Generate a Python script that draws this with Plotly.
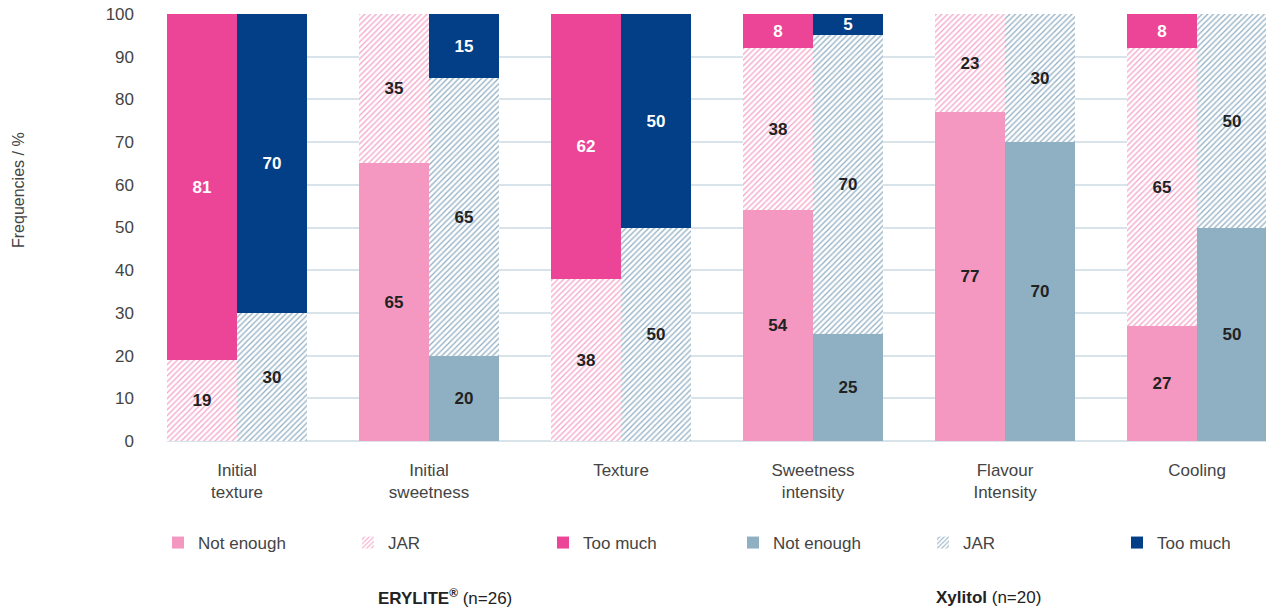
import plotly.graph_objects as go

# Survey categories (bar groups along the x axis)
categories = ["Initial<br>texture", "Initial<br>sweetness", "Texture",
              "Sweetness<br>intensity", "Flavour<br>Intensity", "Cooling"]

# ERYLITE® (n=26) response frequencies, %
erylite_not_enough = [0, 65, 0, 54, 77, 27]
erylite_jar = [19, 35, 38, 38, 23, 65]
erylite_too_much = [81, 0, 62, 8, 0, 8]

# Xylitol (n=20) response frequencies, %
xylitol_not_enough = [0, 20, 0, 25, 70, 50]
xylitol_jar = [30, 65, 50, 70, 30, 50]
xylitol_too_much = [70, 15, 50, 5, 0, 0]

y_ticks = [0, 10, 20, 30, 40, 50, 60, 70, 80, 90, 100]

PINK_LIGHT = "#f498c1"
PINK_HATCH = "#f4a6c8"
PINK_DARK = "#ec4496"
BLUE_LIGHT = "#8fb0c3"
BLUE_HATCH = "#93b0c4"
BLUE_DARK = "#023f87"
TEXT_DARK = "#222222"
TICK_GREY = "#444444"
FONT = "Liberation Sans, Arial, sans-serif"

PLOT_L, PLOT_W, PLOT_B, PLOT_H = 167, 1099, 441, 427

BAR_W = 0.3646  # each bar's width in category units
idx = list(range(len(categories)))
x_erylite = [i - BAR_W / 2 for i in idx]
x_xylitol = [i + BAR_W / 2 for i in idx]

# left edge (px) of each legend entry, one legend per entry
LEGEND_X = [158, 348, 543, 733, 923, 1117]


def px_x(px):
    return (px - PLOT_L) / PLOT_W


def px_y(px):
    return (PLOT_B - px) / PLOT_H


def bar(x, values, name, color, text_color, legend, pattern=None):
    # only segments with a non-zero share are drawn
    pts = [(xi, v) for xi, v in zip(x, values) if v]
    marker = dict(color=color, line=dict(width=0))
    if pattern is not None:
        marker = dict(color="white", line=dict(width=0),
                      pattern=dict(shape="/", fgcolor=pattern, bgcolor="white",
                                   size=4, solidity=0.33, fillmode="replace"))
    return go.Bar(
        x=[p[0] for p in pts], y=[p[1] for p in pts], width=BAR_W, name=name,
        marker=marker, legend=legend,
        text=[str(p[1]) for p in pts], textposition="inside",
        insidetextanchor="middle", textangle=0, constraintext="none",
        textfont=dict(family=FONT, size=17, color=text_color, weight="bold"),
        hoverinfo="skip",
    )


fig = go.Figure()
fig.add_trace(bar(x_erylite, erylite_not_enough, "Not enough", PINK_LIGHT, TEXT_DARK, "legend"))
fig.add_trace(bar(x_erylite, erylite_jar, "JAR", "white", TEXT_DARK, "legend2", pattern=PINK_HATCH))
fig.add_trace(bar(x_erylite, erylite_too_much, "Too much", PINK_DARK, "white", "legend3"))
fig.add_trace(bar(x_xylitol, xylitol_not_enough, "Not enough", BLUE_LIGHT, TEXT_DARK, "legend4"))
fig.add_trace(bar(x_xylitol, xylitol_jar, "JAR", "white", TEXT_DARK, "legend5", pattern=BLUE_HATCH))
fig.add_trace(bar(x_xylitol, xylitol_too_much, "Too much", BLUE_DARK, "white", "legend6"))

legend_style = dict(orientation="h", xanchor="left", yanchor="middle", y=px_y(543),
                    font=dict(family=FONT, size=17, color=TICK_GREY),
                    itemclick=False, itemdoubleclick=False, bgcolor="rgba(0,0,0,0)")
legends = {("legend" if i == 0 else f"legend{i + 1}"): dict(x=px_x(lx), **legend_style)
           for i, lx in enumerate(LEGEND_X)}

fig.update_layout(
    width=1266, height=610,
    margin=dict(l=PLOT_L, r=0, t=14, b=169, autoexpand=False),
    barmode="stack", bargap=0,
    plot_bgcolor="white", paper_bgcolor="white",
    font=dict(family=FONT, size=17, color=TICK_GREY),
    showlegend=True,
    **legends,
    xaxis=dict(range=[-0.3646, 5.359], tickvals=idx, ticktext=categories,
               showgrid=False, zeroline=False, showline=False, ticks="",
               ticklabelstandoff=17,
               tickfont=dict(family=FONT, size=17, color=TICK_GREY)),
    yaxis=dict(range=[0, 100], tickvals=y_ticks, showgrid=True,
               gridcolor="#d8e3ea", gridwidth=1.5, zeroline=True,
               zerolinecolor="#d8e3ea", zerolinewidth=1.5, showline=False,
               ticks="", ticklabelstandoff=32,
               tickfont=dict(family=FONT, size=17, color=TICK_GREY)),
    annotations=[
        dict(text="Frequencies / %", textangle=-90, xref="paper", yref="paper",
             x=px_x(18), y=px_y(190), xanchor="center", yanchor="middle",
             showarrow=False, font=dict(family=FONT, size=16, color=TICK_GREY)),
        dict(text="<b>ERYLITE<sup>®</sup></b> (n=26)", xref="paper", yref="paper",
             x=px_x(445), y=px_y(597), xanchor="center", yanchor="middle",
             showarrow=False, font=dict(family=FONT, size=17, color=TEXT_DARK)),
        dict(text="<b>Xylitol</b> (n=20)", xref="paper", yref="paper",
             x=px_x(988), y=px_y(597), xanchor="center", yanchor="middle",
             showarrow=False, font=dict(family=FONT, size=17, color=TEXT_DARK)),
    ],
)

fig.write_html("out.html")
